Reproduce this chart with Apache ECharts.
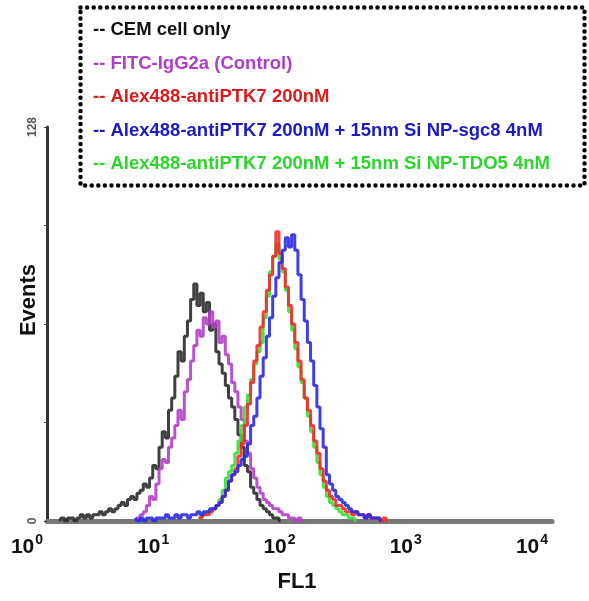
<!DOCTYPE html>
<html><head><meta charset="utf-8">
<script src="https://cdn.jsdelivr.net/npm/echarts@6/dist/echarts.min.js"></script>
<style>html,body{margin:0;padding:0;background:#fff}#c{width:589px;height:601px}</style>
</head><body><div id="c"></div>
<script>
// Histogram channels: log10(FL1) grid step
const binStep = 0.025;
const seriesNames = [
  'CEM cell only',
  'FITC-IgG2a (Control)',
  'Alex488-antiPTK7 200nM',
  'Alex488-antiPTK7 200nM + 15nm Si NP-sgc8 4nM',
  'Alex488-antiPTK7 200nM + 15nm Si NP-TDO5 4nM'
];
const xTickExponents = [0, 1, 2, 3, 4];
const yTicks = [0, 128];

// start = log10(FL1) of first channel
const cemStart = 0.10;
const cemValues = [0,1,0,1,1,0,1,2,1,2,1,2,2,3,2,3,4,3,4,5,6,5,7,8,7,9,10,12,11,14,18,17,24,29,27,36,40,47,55,52,60,65,72,77,70,74,68,71,62,64,55,51,48,44,40,37,33,28,24,18,16,11,9,7,5,4,3,2,1,1,0];

const fitcStart = 0.70;
const fitcValues = [0,1,2,3,5,8,7,12,17,20,19,24,27,31,36,33,42,46,52,57,62,60,66,64,68,63,65,58,60,54,51,45,42,37,33,26,22,17,14,11,9,7,6,5,4,4,3,2,2,1,1,0,1,0];

const alexStart = 1.20;
const alexValues = [1,1,2,2,3,4,5,6,8,10,13,15,17,21,25,31,38,45,52,57,63,68,75,80,86,94,87,82,76,70,64,58,52,46,40,36,31,26,22,17,13,10,8,7,5,5,4,3,3,2,3,2,2,1,2,1,1,1,0,1,0];

const sgc8Start = 0.70;
const sgc8Values = [1,0,1,0,1,1,0,1,1,1,2,1,1,2,1,2,2,1,2,2,3,2,3,3,4,4,5,6,8,10,13,15,16,18,20,21,25,31,34,40,47,53,60,66,73,79,84,88,92,89,93,88,80,72,65,58,52,44,37,30,24,15,12,10,8,7,6,5,4,3,3,2,2,1,2,1,1,1,0];

const tdo5Start = 1.20;
const tdo5Values = [1,1,2,3,3,4,5,7,10,14,16,18,22,26,31,37,41,46,51,55,58,66,73,81,86,90,85,81,75,68,62,56,50,45,40,34,29,24,19,15,11,8,6,5,4,3,2,2,1,1,0];

const seriesColors = ['#2b2b2b', '#b23fc6', '#f22a2a', '#2a2ae6', '#35e035'];
const legendColors = ['#111111', '#b03ccc', '#e01a1a', '#1a1ac8', '#2ad62a'];

function toPairs(start, vals) {
  return vals.map((v, i) => [Math.pow(10, start + i * binStep), v]);
}
const allData = [
  toPairs(cemStart, cemValues),
  toPairs(fitcStart, fitcValues),
  toPairs(alexStart, alexValues),
  toPairs(sgc8Start, sgc8Values),
  toPairs(tdo5Start, tdo5Values)
];
const drawOrder = [0, 1, 4, 2, 3];

const chart = echarts.init(document.getElementById('c'), null, {renderer: 'canvas'});
const FONT = '"Liberation Sans", Arial, sans-serif';

const option = {
  animation: false,
  backgroundColor: '#fff',
  grid: {left: 47, right: 37, top: 127, bottom: 80},
  legend: {
    orient: 'vertical',
    left: 83, top: 15,
    itemWidth: 0, itemHeight: 0,
    itemGap: 13.5,
    selectedMode: false,
    formatter: '-- {name}',
    textStyle: {fontSize: 18.5, fontWeight: 'bold', fontFamily: FONT, lineHeight: 20},
    data: seriesNames.map((n, i) => ({name: n, icon: 'rect', textStyle: {color: legendColors[i]}}))
  },
  xAxis: {
    type: 'log', logBase: 10, min: 1, max: 10000, interval: 1,
    axisLine: {lineStyle: {color: '#787878', width: 5}},
    axisTick: {show: false},
    splitLine: {show: false},
    axisLabel: {
      margin: 12,
      padding: [0, 40, 0, 0],
      formatter: function (v) {
        const e = Math.round(Math.log10(v));
        if (xTickExponents.indexOf(e) < 0) return '';
        return '{b|10}{s|' + e + '}';
      },
      rich: {
        b: {fontSize: 21, fontWeight: 'bold', fontFamily: FONT, color: '#111'},
        s: {fontSize: 14, fontWeight: 'bold', fontFamily: FONT, color: '#111', padding: [0, 0, 14, 1]}
      }
    },
    name: 'FL1', nameLocation: 'middle', nameGap: 50,
    nameTextStyle: {fontSize: 22, fontWeight: 'bold', fontFamily: FONT, color: '#111', padding: [0, 5, 0, 0]}
  },
  yAxis: {
    type: 'value', min: 0, max: 128, interval: 32,
    axisLine: {show: true, lineStyle: {color: '#333', width: 3}},
    axisTick: {show: true, length: 3, lineStyle: {color: '#444', width: 1}},
    splitLine: {show: false},
    axisLabel: {
      rotate: 90, margin: 8,
      fontSize: 12, fontWeight: 'bold', fontFamily: FONT, color: '#555',
      formatter: v => (yTicks.indexOf(v) >= 0 ? String(v) : '')
    }
  },
  graphic: [
    {
      type: 'rect', left: 78, top: 5,
      shape: {x: 0, y: 0, width: 504, height: 178},
      style: {fill: 'none', stroke: '#000', lineWidth: 4.5, lineDash: [0, 6.6], lineCap: 'round'},
      z: 10
    },
    {
      type: 'text', x: 29, y: 300, rotation: Math.PI / 2,
      style: {text: 'Events', fontSize: 22, fontWeight: 'bold', fontFamily: FONT, fill: '#111',
              textAlign: 'center', textVerticalAlign: 'middle'}
    }
  ],
  series: drawOrder.map(i => ({
    name: seriesNames[i],
    type: 'line',
    step: 'middle',
    showSymbol: false,
    symbol: 'none',
    data: allData[i],
    lineStyle: {color: seriesColors[i], width: 3, opacity: 0.9},
    itemStyle: {color: seriesColors[i]},
    z: 3
  }))
};
chart.setOption(option);
</script></body></html>
